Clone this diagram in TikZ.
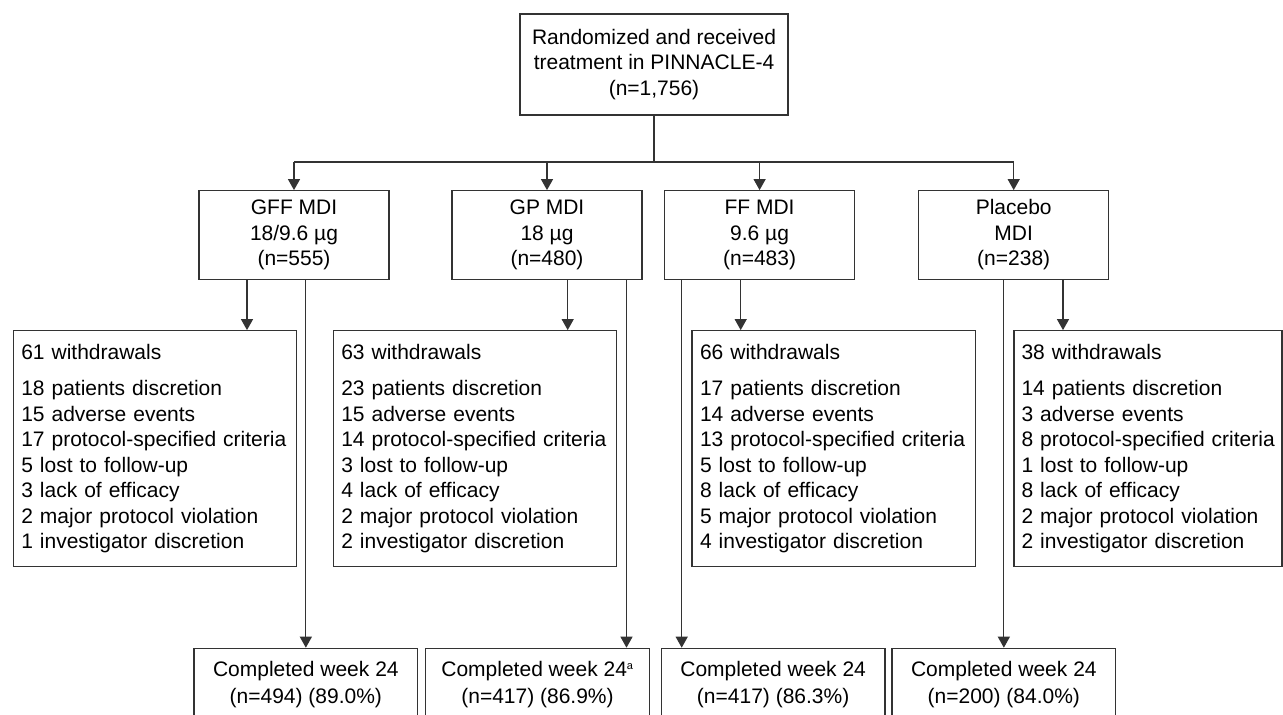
\documentclass[tikz,border=0pt]{standalone}
\usepackage{fontspec}
\setmainfont{Liberation Sans}
\usetikzlibrary{arrows.meta}
\hyphenpenalty=10000
\exhyphenpenalty=10000
\begin{document}
\begin{tikzpicture}[x=1pt,y=-1pt,
  every node/.style={font=\fontsize{21}{25.5}\selectfont},
  linecol/.style={draw=black!80, line width=1.2pt},
  box/.style={linecol, rectangle, inner sep=0pt, align=center},
  lvbox/.style={box, minimum width=190pt, minimum height=88.6pt},
  wbox/.style={linecol, rectangle, inner xsep=8pt, inner ysep=0pt, align=left, minimum height=236pt},
  cbox/.style={box, minimum width=223.7pt, minimum height=72.8pt},
  conn/.style={linecol},
  arr/.style={linecol, -{Triangle[width=12pt,length=11pt]}}
]
\useasboundingbox (0,0) rectangle (1283,715);
\clip (0,0) rectangle (1283,715);
\fill[white] (0,0) rectangle (1283,715);

% top box
\node[box, minimum width=268pt, minimum height=101pt] (top) at (654,64.5)
  {Randomized and received\\treatment in PINNACLE-4\\(n=1,756)};

% treatment arms
\node[lvbox] (gff) at (294,235) {GFF MDI\\18/9.6 µg\\(n=555)};
\node[lvbox] (gp)  at (547,235) {GP MDI\\18 µg\\(n=480)};
\node[lvbox] (ff)  at (759.6,235) {FF MDI\\9.6 µg\\(n=483)};
\node[lvbox] (pla) at (1013.7,235) {Placebo\\MDI\\(n=238)};

% withdrawals
\node[wbox, text width=267.4pt] (w1) at (155,448.7) {61 withdrawals\\[11pt]
18 patients discretion\\15 adverse events\\\mbox{17 protocol-specified criteria}\\5 lost to follow-up\\3 lack of efficacy\\2 major protocol violation\\1 investigator discretion};
\node[wbox, text width=267.4pt] (w2) at (475,448.7) {63 withdrawals\\[11pt]
23 patients discretion\\15 adverse events\\\mbox{14 protocol-specified criteria}\\3 lost to follow-up\\4 lack of efficacy\\2 major protocol violation\\2 investigator discretion};
\node[wbox, text width=267.3pt] (w3) at (833.7,448.7) {66 withdrawals\\[11pt]
17 patients discretion\\14 adverse events\\\mbox{13 protocol-specified criteria}\\5 lost to follow-up\\8 lack of efficacy\\5 major protocol violation\\4 investigator discretion};
\node[wbox, inner xsep=7.5pt, text width=253pt] (w4) at (1148,448.7) {38 withdrawals\\[11pt]
14 patients discretion\\3 adverse events\\\mbox{8 protocol-specified criteria}\\1 lost to follow-up\\8 lack of efficacy\\2 major protocol violation\\2 investigator discretion};

% completed
\node[cbox] (c1) at (305.85,684.7) {Completed week 24\\[1.5pt](n=494) (89.0\%)};
\node[cbox] (c2) at (537.5,684.7) {Completed week 24\textsuperscript{\fontsize{11}{11}\selectfont a}\\[1.5pt](n=417) (86.9\%)};
\node[cbox] (c3) at (773.15,684.7) {Completed week 24\\[1.5pt](n=417) (86.3\%)};
\node[cbox] (c4) at (1003.85,684.7) {Completed week 24\\[1.5pt](n=200) (84.0\%)};

% helper coordinates
\coordinate (hy) at (0,162);
\coordinate (xa) at (247,0);
\coordinate (xb) at (567.7,0);
\coordinate (xc) at (626.5,0);
\coordinate (xd) at (681.7,0);
\coordinate (xe) at (740.7,0);
\coordinate (xf) at (1063,0);

% top distribution
\draw[conn] (top.south) -- (top.south |- hy);
\draw[conn] (gff.north |- hy) -- (pla.north |- hy);
\draw[arr] (gff.north |- hy) -- (gff.north);
\draw[arr] (gp.north |- hy) -- (gp.north);
\draw[arr] (ff.north |- hy) -- (ff.north);
\draw[arr] (pla.north |- hy) -- (pla.north);

% to withdrawals
\draw[arr] (gff.south -| xa) -- (w1.north -| xa);
\draw[arr] (gp.south -| xb) -- (w2.north -| xb);
\draw[arr] (ff.south -| xe) -- (w3.north -| xe);
\draw[arr] (pla.south -| xf) -- (w4.north -| xf);

% to completed
\draw[arr] (gff.south -| c1.north) -- (c1.north);
\draw[arr] (gp.south -| xc) -- (c2.north -| xc);
\draw[arr] (ff.south -| xd) -- (c3.north -| xd);
\draw[arr] (pla.south -| c4.north) -- (c4.north);
\end{tikzpicture}
\end{document}
